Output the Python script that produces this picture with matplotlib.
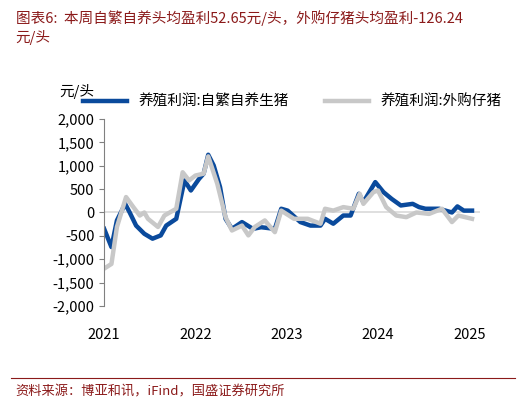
import numpy as np
import matplotlib.pyplot as plt

plt.rcParams['font.family'] = ['Noto Sans CJK SC', 'DejaVu Sans']

# zoom-read points: (year fraction, value)
blue_t = [2021.0, 2021.08, 2021.14, 2021.23, 2021.28, 2021.35, 2021.44, 2021.53, 2021.62, 2021.68,
          2021.79, 2021.88, 2021.95, 2022.04, 2022.09, 2022.14, 2022.20, 2022.27, 2022.33, 2022.40,
          2022.51, 2022.63, 2022.72, 2022.87, 2022.94, 2023.01, 2023.15, 2023.26, 2023.37, 2023.42,
          2023.51, 2023.62, 2023.70, 2023.79, 2023.84, 2023.97, 2024.06, 2024.15, 2024.25, 2024.38,
          2024.45, 2024.52, 2024.67, 2024.81, 2024.87, 2024.94, 2025.03]
blue_v = [-350, -740, -170, 185, 0, -280, -455, -560, -490, -280,
          -135, 685, 470, 720, 830, 1235, 1005, 540, -135, -350,
          -205, -350, -315, -350, 80, 40, -205, -280, -280, -135,
          -240, -65, -65, 400, 220, 650, 435, 290, 150, 185,
          115, 80, 80, 0, 130, 40, 40]
gray_t = [2021.0, 2021.08, 2021.14, 2021.24, 2021.32, 2021.39, 2021.44, 2021.48, 2021.59, 2021.66,
          2021.79, 2021.86, 2021.93, 2022.00, 2022.09, 2022.14, 2022.24, 2022.33, 2022.40, 2022.51,
          2022.58, 2022.65, 2022.76, 2022.87, 2022.94, 2023.08, 2023.23, 2023.37, 2023.42, 2023.51,
          2023.62, 2023.73, 2023.80, 2023.84, 2023.95, 2024.00, 2024.09, 2024.20, 2024.31, 2024.42,
          2024.56, 2024.70, 2024.81, 2024.88, 2025.03]
gray_v = [-1200, -1100, -310, 330, 115, -65, 0, -135, -310, -65,
          80, 860, 685, 790, 830, 1200, 610, -100, -385, -280,
          -490, -310, -170, -420, 40, -135, -135, -240, 80, 40,
          115, 80, 400, 185, 435, 470, 115, -65, -100, 0,
          -30, 80, -205, -65, -135]

fig = plt.figure(figsize=(5.26, 4.13), dpi=100)
title_col = '#8B1A1A'
fig.text(0.03, 0.975, '图表6:  本周自繁自养头均盈利52.65元/头，外购仔猪头均盈利-126.24\n元/头',
         color=title_col, fontsize=10.5, style='italic', va='top', linespacing=1.3)
fig.text(0.03, 0.035, '资料来源：博亚和讯，iFind，国盛证券研究所', color=title_col,
         fontsize=9.5, style='italic', va='bottom')
fig.add_artist(plt.Line2D([0.02, 0.98], [0.085, 0.085], color=title_col, lw=0.8))

ax = fig.add_axes([0.198, 0.259, 0.715, 0.453])
ax.plot(blue_t, blue_v, color='#0a4a9c', lw=3.2, label='养殖利润:自繁自养生猪')
ax.plot(gray_t, gray_v, color='#c8c8c8', lw=3.2, label='养殖利润:外购仔猪')
ax.axhline(0, color='#d9d9d9', lw=1.2, zorder=0)
ax.set_xlim(2021, 2025.12)
ax.set_ylim(-2000, 2000)
ax.set_yticks(np.arange(-2000, 2001, 500))
ax.set_yticklabels([f'{v:,}' for v in range(-2000, 2001, 500)], fontsize=10.5)
ax.set_xticks([2021, 2022, 2023, 2024, 2025])
ax.set_xticklabels(['2021', '2022', '2023', '2024', '2025'], fontsize=10.5)
for s in ['top', 'right', 'bottom']:
    ax.spines[s].set_visible(False)
ax.spines['left'].set_color('#808080')
ax.tick_params(axis='x', length=0, pad=16)
ax.tick_params(axis='y', color='#808080')
ax.text(-0.12, 1.12, '元/头', transform=ax.transAxes, fontsize=10.5)
ax.legend(loc='lower center', bbox_to_anchor=(0.5, 1.0), ncol=2, frameon=False,
          fontsize=10.5, handlelength=3, columnspacing=2.5, borderaxespad=0.3)
fig.savefig('out.png')
